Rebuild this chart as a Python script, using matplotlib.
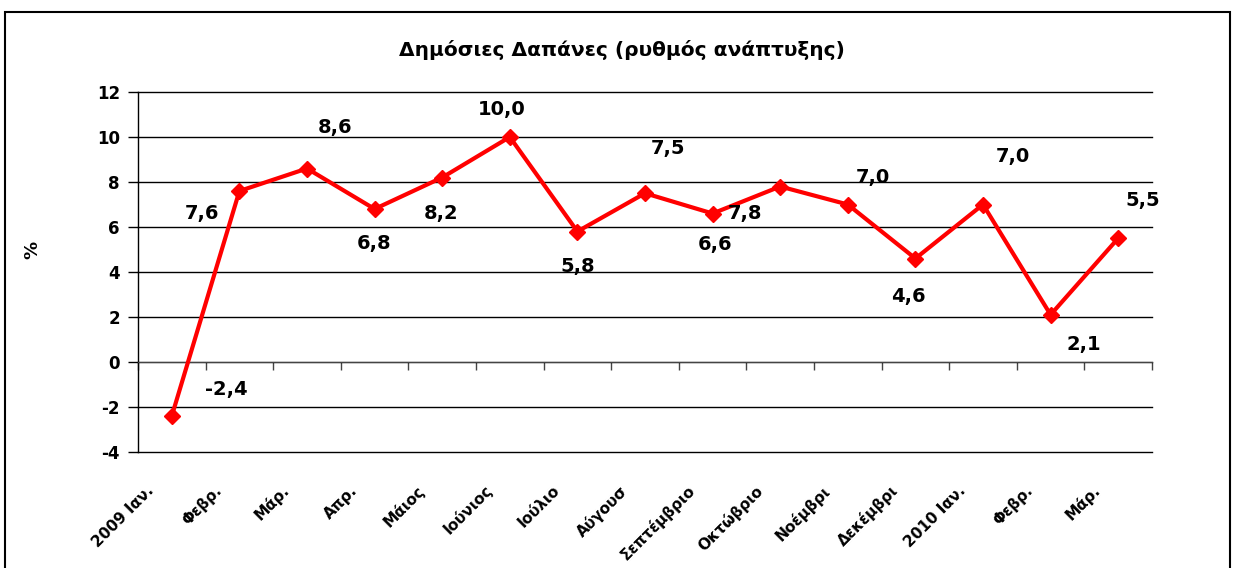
import matplotlib
matplotlib.use('Agg')
import matplotlib.pyplot as plt
import matplotlib.transforms as mtransforms
from matplotlib.patches import Rectangle
import numpy as np

plt.rcParams['font.family'] = ['DejaVu Sans']
plt.rcParams['font.weight'] = 'bold'
plt.rcParams['axes.unicode_minus'] = False

# data
months = ['2009 Ιαν.', 'Φεβρ.', 'Μάρ.', 'Απρ.', 'Μάιος', 'Ιούνιος', 'Ιούλιο',
          'Αύγουσ', 'Σεπτέμβριο', 'Οκτώβριο', 'Νοέμβρι', 'Δεκέμβρι',
          '2010 Ιαν.', 'Φεβρ.', 'Μάρ.']
growth = [-2.4, 7.6, 8.6, 6.8, 8.2, 10.0, 5.8, 7.5, 6.6, 7.8, 7.0, 4.6, 7.0, 2.1, 5.5]

# label offsets in pixels (dx, dy) relative to each point
label_off = [(55, 26), (-37, -22), (28, 41), (-1, -35), (-1, -36), (-8, 27),
             (0, -35), (23, 45), (2, -31), (-35, -27), (25, 27), (-7, -38),
             (30, 48), (33, -30), (25, 38)]

fig = plt.figure(figsize=(12.36, 5.68), dpi=100)
ax = fig.add_axes([138/1236, 1-452/568, (1152-138)/1236, (452-92)/568])

x = np.arange(len(months))
ax.plot(x, growth, color='#ff0000', linewidth=3, marker='D', markersize=8,
        markeredgecolor='#ff0000', zorder=3)

for xi, v, (dx, dy) in zip(x, growth, label_off):
    ax.annotate(f'{v:.1f}'.replace('.', ','), xy=(xi, v), xytext=(dx, dy),
                textcoords='offset pixels', ha='center', va='center',
                fontsize=14, fontweight='bold', color='black')

ax.set_xlim(-0.5, len(months) - 0.5)
ax.set_ylim(-4, 12)
ax.set_yticks(range(-4, 13, 2))
ax.yaxis.grid(True, color='black', linewidth=1)
for gl in ax.get_ygridlines():
    gl.set_clip_on(False)
ax.set_axisbelow(True)

for s in ['top', 'right']:
    ax.spines[s].set_visible(False)
ax.spines['left'].set_linewidth(1)
ax.spines['bottom'].set_position(('data', 0))
ax.spines['bottom'].set_color('#444444')

ax.set_xticks(np.arange(len(months) + 1) - 0.5)
ax.set_xticklabels([])
ax.tick_params(axis='x', direction='out', length=6, width=1, color='#444444')
ax.tick_params(axis='y', direction='out', length=7, width=1, labelsize=12, pad=6)
for t in ax.get_yticklabels():
    t.set_fontweight('bold')

trans = mtransforms.blended_transform_factory(ax.transData, ax.transAxes)
for xi, lab in zip(x, months):
    ax.annotate(lab, xy=(xi, 0), xycoords=trans, xytext=(-20, -36),
                textcoords='offset pixels', rotation=45, ha='right', va='center',
                rotation_mode='anchor', fontsize=11, fontweight='bold')

fig.text(622/1236, 1-50/568, 'Δημόσιες Δαπάνες (ρυθμός ανάπτυξης)',
         ha='center', va='center', fontsize=14.5, fontweight='bold')
fig.text(32/1236, 1-250/568, '%', rotation=90, ha='center', va='center',
         fontsize=13, fontweight='bold')

fig.patches.append(Rectangle((5/1236, -0.1), 1225/1236, 1.1 - 12/568,
                             transform=fig.transFigure, fill=False,
                             edgecolor='black', linewidth=1.5))

fig.savefig('out.png', dpi=100)
